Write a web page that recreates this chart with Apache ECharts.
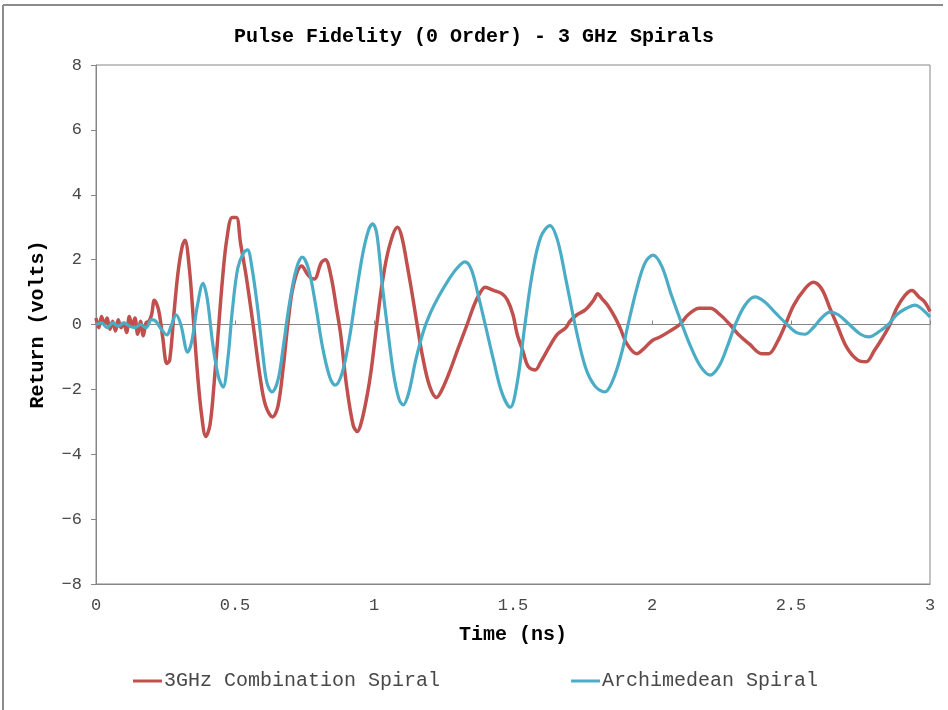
<!DOCTYPE html>
<html>
<head>
<meta charset="utf-8">
<script src="https://cdn.jsdelivr.net/npm/echarts@6/dist/echarts.min.js"></script>
<style>
  html, body { margin: 0; padding: 0; background: #fff; }
  #chart { width: 948px; height: 710px; }
</style>
</head>
<body>
<div id="chart"></div>
<script>
// Time axis ticks (ns) and return axis ticks (volts)
const timeTicks = [0, 0.5, 1, 1.5, 2, 2.5, 3];
const voltTicks = [-8, -6, -4, -2, 0, 2, 4, 6, 8];

const seriesNames = ['3GHz Combination Spiral', 'Archimedean Spiral'];

// [time ns, return volts]
const combinationSpiral = [
  [0, 0.2], [0.01, -0.1], [0.02, 0.25], [0.03, 0.0], [0.04, 0.2], [0.05, -0.15],
  [0.06, 0.1], [0.07, -0.2], [0.08, 0.15], [0.09, -0.1], [0.10, 0.05], [0.11, -0.25],
  [0.12, 0.25], [0.13, -0.05], [0.14, 0.2], [0.15, -0.3], [0.16, 0.1], [0.17, -0.35],
  [0.18, 0.05], [0.19, 0.1], [0.20, 0.3], [0.21, 0.75], [0.225, 0.45], [0.24, -0.4],
  [0.255, -1.2], [0.265, -1.1], [0.28, 0.3], [0.295, 1.6], [0.31, 2.4], [0.32, 2.6],
  [0.335, 1.8], [0.35, 0.2], [0.365, -1.5], [0.38, -2.8], [0.395, -3.45], [0.41, -3.1],
  [0.425, -1.8], [0.44, -0.2], [0.455, 1.4], [0.47, 2.6], [0.49, 3.3], [0.505, 3.3],
  [0.52, 2.5], [0.54, 1.5], [0.565, 0], [0.59, -1.6], [0.61, -2.5], [0.635, -2.85],
  [0.655, -2.5], [0.675, -1.2], [0.69, 0], [0.71, 1.2], [0.74, 1.8], [0.765, 1.5],
  [0.785, 1.4], [0.81, 1.9], [0.825, 2.0], [0.845, 1.5], [0.865, 0.5], [0.88, -0.3],
  [0.9, -1.8], [0.925, -3.1], [0.94, -3.3], [0.955, -3.0], [0.975, -2.2], [0.99, -1.4],
  [1.01, 0], [1.03, 1.3], [1.055, 2.4], [1.085, 3.0], [1.1, 2.7], [1.12, 1.8],
  [1.14, 0.8], [1.155, 0], [1.175, -1.0], [1.2, -1.9], [1.225, -2.25], [1.245, -2.0],
  [1.27, -1.5], [1.3, -0.8], [1.335, 0], [1.36, 0.6], [1.38, 0.95], [1.4, 1.15],
  [1.43, 1.05], [1.46, 0.95], [1.48, 0.75], [1.5, 0.3], [1.515, -0.3], [1.535, -0.8],
  [1.555, -1.3], [1.58, -1.4], [1.6, -1.15], [1.63, -0.7], [1.66, -0.3], [1.69, -0.1],
  [1.705, 0.1], [1.73, 0.3], [1.76, 0.45], [1.79, 0.75], [1.805, 0.95], [1.82, 0.8],
  [1.84, 0.6], [1.865, 0.25], [1.885, -0.1], [1.91, -0.6], [1.945, -0.9], [1.97, -0.75],
  [2.0, -0.5], [2.03, -0.38], [2.065, -0.2], [2.1, 0], [2.13, 0.3], [2.17, 0.5],
  [2.21, 0.5], [2.245, 0.3], [2.28, 0], [2.31, -0.3], [2.35, -0.6], [2.395, -0.9],
  [2.42, -0.9], [2.45, -0.55], [2.48, 0], [2.51, 0.6], [2.55, 1.1], [2.58, 1.3],
  [2.61, 1.1], [2.64, 0.5], [2.665, 0], [2.7, -0.7], [2.74, -1.1], [2.77, -1.15],
  [2.8, -0.8], [2.83, -0.4], [2.856, 0], [2.88, 0.5], [2.91, 0.9], [2.935, 1.05],
  [2.96, 0.85], [2.98, 0.7], [3.0, 0.4]
];

const archimedeanSpiral = [
  [0, 0], [0.02, 0.05], [0.04, -0.1], [0.06, 0.05], [0.08, -0.05], [0.1, 0.05],
  [0.12, -0.05], [0.14, -0.1], [0.16, 0.0], [0.18, -0.1], [0.2, 0.15], [0.215, 0.1],
  [0.235, -0.15], [0.255, -0.32], [0.27, -0.05], [0.288, 0.3], [0.305, 0.0], [0.33, -0.85],
  [0.345, -0.5], [0.365, 0.6], [0.385, 1.27], [0.4, 0.8], [0.42, -0.6], [0.44, -1.6],
  [0.457, -1.93], [0.475, -1.0], [0.49, 0.4], [0.51, 1.74], [0.53, 2.2], [0.545, 2.3],
  [0.56, 1.8], [0.58, 0.6], [0.6, -0.9], [0.615, -1.8], [0.633, -2.08], [0.655, -1.7],
  [0.675, -0.6], [0.695, 0.6], [0.72, 1.7], [0.742, 2.08], [0.765, 1.7], [0.79, 0.6],
  [0.815, -0.7], [0.84, -1.6], [0.86, -1.87], [0.885, -1.5], [0.91, -0.5], [0.935, 0.9],
  [0.96, 2.2], [0.98, 2.9], [0.995, 3.1], [1.01, 2.8], [1.03, 1.2], [1.047, 0],
  [1.07, -1.5], [1.09, -2.3], [1.105, -2.48], [1.125, -2.1], [1.15, -1.1], [1.177, -0.23],
  [1.2, 0.3], [1.235, 0.9], [1.27, 1.4], [1.3, 1.75], [1.327, 1.93], [1.35, 1.7],
  [1.375, 0.9], [1.4, 0], [1.43, -1.1], [1.46, -2.1], [1.49, -2.55], [1.515, -1.8],
  [1.543, 0], [1.57, 1.6], [1.6, 2.7], [1.633, 3.05], [1.66, 2.6], [1.69, 1.4],
  [1.723, 0], [1.76, -1.3], [1.795, -1.9], [1.83, -2.08], [1.86, -1.7], [1.89, -0.9],
  [1.914, 0], [1.945, 1.1], [1.975, 1.9], [2.004, 2.14], [2.035, 1.8], [2.07, 0.9],
  [2.108, 0], [2.14, -0.7], [2.175, -1.3], [2.209, -1.56], [2.24, -1.3], [2.27, -0.7],
  [2.3, 0], [2.335, 0.6], [2.37, 0.85], [2.405, 0.7], [2.445, 0.35], [2.486, 0],
  [2.52, -0.25], [2.55, -0.3], [2.58, -0.1], [2.61, 0.2], [2.64, 0.38], [2.67, 0.3],
  [2.71, 0], [2.75, -0.3], [2.78, -0.38], [2.82, -0.2], [2.85, 0], [2.88, 0.3],
  [2.915, 0.5], [2.946, 0.6], [2.975, 0.45], [3.0, 0.23]
];

const MONO = '"Liberation Mono", "Courier New", monospace';
const AXIS_GRAY = '#868686';
const LABEL_GRAY = '#484848';

const chart = echarts.init(document.getElementById('chart'), null, { renderer: 'canvas' });

const fmtNum = v => (v < 0 ? '\u2212' + Math.abs(v) : String(v));

chart.setOption({
  animation: false,
  backgroundColor: '#ffffff',
  title: {
    text: 'Pulse Fidelity (0 Order) - 3 GHz Spirals',
    left: 'center',
    top: 22,
    textStyle: { fontFamily: MONO, fontWeight: 'bold', fontSize: 20, color: '#000' }
  },
  legend: {
    data: seriesNames,
    left: 133,
    top: 671,
    padding: 0,
    icon: 'rect',
    itemWidth: 29,
    itemHeight: 3,
    itemGap: 131,
    textStyle: { fontFamily: MONO, fontSize: 20, color: LABEL_GRAY, padding: [0, 0, 0, -3] }
  },
  graphic: [
    { type: 'line', shape: { x1: 3, y1: 5, x2: 943, y2: 5 }, style: { stroke: '#8c8c8c', lineWidth: 2 } },
    { type: 'line', shape: { x1: 3, y1: 5, x2: 3, y2: 710 }, style: { stroke: '#8c8c8c', lineWidth: 2 } }
  ],
  grid: {
    left: 96, right: 18, top: 65, bottom: 126,
    show: true, borderColor: AXIS_GRAY, borderWidth: 1, backgroundColor: 'transparent'
  },
  xAxis: [
    {
      type: 'value',
      min: timeTicks[0], max: timeTicks[timeTicks.length - 1], interval: 0.5,
      position: 'bottom',
      name: 'Time (ns)',
      nameLocation: 'middle',
      nameGap: 41,
      nameTextStyle: { fontFamily: MONO, fontWeight: 'bold', fontSize: 20, color: '#000' },
      axisLine: { onZero: false, lineStyle: { color: AXIS_GRAY, width: 1 } },
      axisTick: { show: false },
      splitLine: { show: false },
      axisLabel: { fontFamily: MONO, fontSize: 17, color: LABEL_GRAY, margin: 13, formatter: v => String(v) }
    },
    {
      // zero-volt crossing line with its ticks
      type: 'value',
      min: timeTicks[0], max: timeTicks[timeTicks.length - 1], interval: 0.5,
      position: 'bottom',
      offset: -259.5,
      axisLine: { onZero: false, lineStyle: { color: AXIS_GRAY, width: 1 } },
      axisTick: { show: true, inside: true, length: 4, lineStyle: { color: AXIS_GRAY } },
      axisLabel: { show: false },
      splitLine: { show: false }
    }
  ],
  yAxis: {
    type: 'value',
    min: voltTicks[0], max: voltTicks[voltTicks.length - 1], interval: 2,
    name: 'Return (volts)',
    nameLocation: 'middle',
    nameGap: 48,
    nameTextStyle: { fontFamily: MONO, fontWeight: 'bold', fontSize: 20, color: '#000' },
    axisLine: { show: true, lineStyle: { color: AXIS_GRAY, width: 1 } },
    axisTick: { show: true, length: 5, lineStyle: { color: AXIS_GRAY } },
    splitLine: { show: false },
    axisLabel: { fontFamily: MONO, fontSize: 17, color: LABEL_GRAY, margin: 14, formatter: fmtNum }
  },
  series: [
    {
      name: seriesNames[0],
      type: 'line',
      xAxisIndex: 0,
      data: combinationSpiral,
      showSymbol: false,
      smooth: 0.35,
      lineStyle: { color: '#C0504D', width: 3.5 },
      itemStyle: { color: '#C0504D' }
    },
    {
      name: seriesNames[1],
      type: 'line',
      xAxisIndex: 0,
      data: archimedeanSpiral,
      showSymbol: false,
      smooth: 0.35,
      lineStyle: { color: '#4BACC6', width: 3.2 },
      itemStyle: { color: '#4BACC6' }
    }
  ]
});
</script>
</body>
</html>
